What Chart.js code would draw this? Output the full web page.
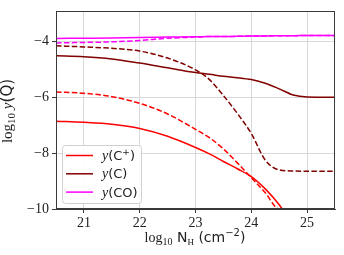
<!DOCTYPE html>
<html>
<head>
<meta charset="utf-8">
<script src="https://cdn.jsdelivr.net/npm/chart.js@4.4.1/dist/chart.umd.min.js"></script>
<style>
  html, body { margin: 0; padding: 0; background: #fff; }
  #wrap { width: 344px; height: 255px; }
</style>
</head>
<body>
<div id="wrap"><canvas id="chart"></canvas></div>
<script>
// column density grid, log10 N_H
var NH = [20.5, 21, 21.5, 22, 22.5, 23, 23.25, 23.5, 23.75, 24, 24.25, 24.5, 24.75, 25, 25.5];

// log10 abundances, solid and dashed model
var cPlus     = [-6.86, -6.9, -6.97, -7.12, -7.4, -7.8, -8.03, -8.3, -8.56, -8.84, -9.28, -9.85, -10.6, null, null];
var cPlusDash = [-5.81, -5.86, -5.98, -6.22, -6.6, -7.15, -7.45, -7.85, -8.35, -8.88, -9.42, -10, -10, -10, -10];
var cNeut     = [-4.52, -4.55, -4.63, -4.78, -4.95, -5.12, -5.18, -5.25, -5.3, -5.37, -5.5, -5.7, -5.92, -5.99, -6.0];
var cNeutDash = [-4.16, -4.2, -4.25, -4.35, -4.6, -5.02, -5.37, -5.94, -6.58, -7.3, -8.25, -8.6, -8.64, -8.65, -8.65];
var co        = [-3.9, -3.89, -3.88, -3.86, -3.85, -3.84, -3.83, -3.83, -3.82, -3.81, -3.81, -3.8, -3.8, -3.79, -3.79];
var coDash    = [-4.06, -4.04, -4.02, -3.97, -3.89, -3.85, -3.83, -3.83, -3.82, -3.81, -3.81, -3.8, -3.8, -3.79, -3.79];

var xTicks = [21, 22, 23, 24, 25];
var yTicks = [-10, -8, -6, -4];

var RED = '#ff0000';
var DARK = '#800000';
var MAG = '#ff00ff';
var GRID = '#d9d9d9';
var AXIS = '#3a3a3a';
var SERIF = "'Liberation Serif', 'DejaVu Serif', serif";
var SANS = "'DejaVu Sans', sans-serif";
var DASH = [5.5, 2.4];

Chart.defaults.font.family = SERIF;
Chart.defaults.font.size = 14;
Chart.defaults.color = '#222';

function pts(ys) {
  return NH.map(function (x, i) { return { x: x, y: ys[i] }; });
}

function series(ys, color, dashed) {
  return {
    data: pts(ys),
    borderColor: color,
    borderWidth: 1.5,
    borderDash: dashed ? DASH : [],
    pointRadius: 0,
    fill: false,
    cubicInterpolationMode: 'monotone',
    spanGaps: false,
  };
}

function minus(v) {
  return v < 0 ? '\u2212' + Math.abs(v) : String(v);
}

// draw a run of text pieces with their own fonts and baseline shifts
function runs(ctx, parts, x, y, align) {
  var w = 0;
  parts.forEach(function (p) { ctx.font = p.f; p.w = ctx.measureText(p.t).width; w += p.w; });
  var cx = align === 'center' ? x - w / 2 : x;
  ctx.textAlign = 'left';
  ctx.textBaseline = 'alphabetic';
  parts.forEach(function (p) {
    ctx.font = p.f;
    ctx.fillText(p.t, cx, y + (p.dy || 0));
    cx += p.w;
  });
}

var extras = {
  id: 'extras',
  afterDraw: function (chart) {
    var ctx = chart.ctx;
    var a = chart.chartArea;
    ctx.save();
    ctx.strokeStyle = AXIS;
    ctx.lineWidth = 1;
    ctx.strokeRect(Math.round(a.left) + 0.5, Math.round(a.top) + 0.5,
      Math.round(a.right - a.left) - 1, Math.round(a.bottom - a.top) - 1);

    ctx.fillStyle = '#222';
    // x title
    runs(ctx, [
      { t: 'log', f: '14px ' + SERIF },
      { t: '10', f: '10px ' + SERIF, dy: 3 },
      { t: ' N', f: '14px ' + SANS },
      { t: 'H', f: '9px ' + SERIF, dy: 3 },
      { t: ' (cm', f: '14px ' + SANS },
      { t: '\u22122', f: '10px ' + SANS, dy: -6 },
      { t: ')', f: '14px ' + SANS },
    ], 195, 242, 'center');

    // y title
    ctx.save();
    ctx.translate(12, 111);
    ctx.rotate(-Math.PI / 2);
    runs(ctx, [
      { t: 'log', f: '15px ' + SERIF },
      { t: '10', f: '11px ' + SERIF, dy: 3 },
      { t: ' ', f: '15px ' + SERIF },
      { t: 'y', f: 'italic 15px ' + SERIF },
      { t: '(Q)', f: '15px ' + SANS },
    ], 0, 0, 'center');
    ctx.restore();

    // legend
    var bx = 62.5, by = 145.5, bw = 79, bh = 58, r = 3;
    ctx.beginPath();
    ctx.moveTo(bx + r, by);
    ctx.arcTo(bx + bw, by, bx + bw, by + bh, r);
    ctx.arcTo(bx + bw, by + bh, bx, by + bh, r);
    ctx.arcTo(bx, by + bh, bx, by, r);
    ctx.arcTo(bx, by, bx + bw, by, r);
    ctx.closePath();
    ctx.fillStyle = 'rgba(255,255,255,0.9)';
    ctx.fill();
    ctx.strokeStyle = '#d0d0d0';
    ctx.stroke();

    var rows = [
      { c: RED, name: 'C', sup: '+' },
      { c: DARK, name: 'C' },
      { c: MAG, name: 'CO' },
    ];
    rows.forEach(function (row, i) {
      var yy = 155.5 + i * 18.3;
      ctx.strokeStyle = row.c;
      ctx.lineWidth = 1.5;
      ctx.setLineDash([]);
      ctx.beginPath();
      ctx.moveTo(66, yy);
      ctx.lineTo(93, yy);
      ctx.stroke();
      ctx.fillStyle = '#222';
      var parts = [
        { t: 'y', f: 'italic 14px ' + SERIF },
        { t: '(' + row.name, f: '13px ' + SANS },
      ];
      if (row.sup) parts.push({ t: row.sup, f: '9px ' + SANS, dy: -5 });
      parts.push({ t: ')', f: '13px ' + SANS });
      runs(ctx, parts, 102, yy + 4.5, 'left');
    });
    ctx.restore();
  },
};

new Chart(document.getElementById('chart'), {
  type: 'line',
  data: {
    datasets: [
      series(cPlus, RED, false),
      series(cPlusDash, RED, true),
      series(cNeut, DARK, false),
      series(cNeutDash, DARK, true),
      series(co, MAG, false),
      series(coDash, MAG, true),
    ],
  },
  options: {
    responsive: true,
    maintainAspectRatio: false,
    animation: false,
    layout: { padding: { top: 2, right: 9, left: 0, bottom: 0 } },
    plugins: { legend: { display: false }, tooltip: { enabled: false } },
    scales: {
      x: {
        type: 'linear',
        min: 20.5,
        max: 25.5,
        afterFit: function (s) { s.height = 46; },
        afterBuildTicks: function (s) { s.ticks = xTicks.map(function (v) { return { value: v }; }); },
        grid: { color: GRID, tickColor: AXIS, tickLength: 4 },
        border: { color: AXIS },
        ticks: {
          color: '#222',
          padding: 2,
          maxRotation: 0,
          font: { family: SERIF, size: 14 },
          callback: function (v) { return String(v); },
        },
      },
      y: {
        type: 'linear',
        min: -10,
        max: -2.93,
        afterFit: function (s) { s.width = 56; },
        afterBuildTicks: function (s) { s.ticks = yTicks.map(function (v) { return { value: v }; }); },
        grid: { color: GRID, tickColor: AXIS, tickLength: 4 },
        border: { color: AXIS },
        ticks: {
          color: '#222',
          padding: 3,
          font: { family: SERIF, size: 14 },
          callback: function (v) { return minus(v); },
        },
      },
    },
  },
  plugins: [extras],
});
</script>
</body>
</html>
